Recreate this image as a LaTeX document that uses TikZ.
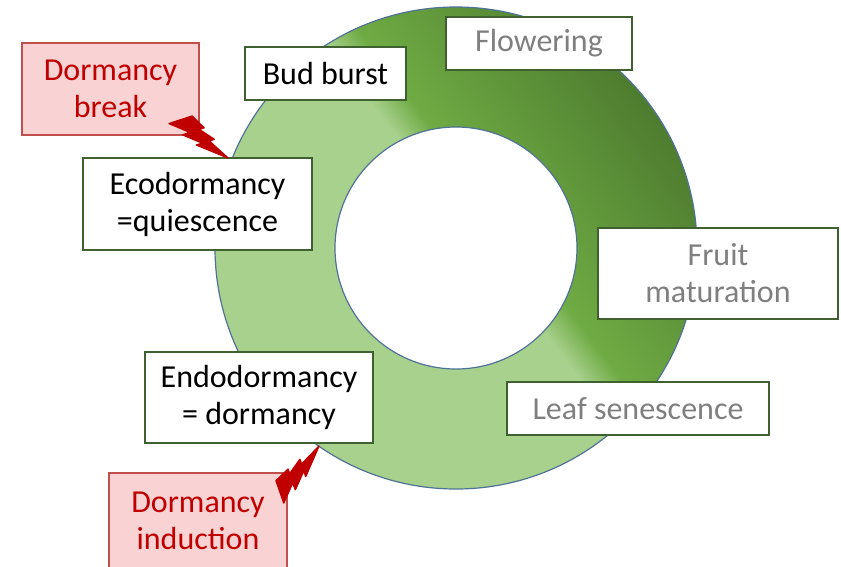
\documentclass[tikz,border=0pt]{standalone}
\usepackage{fontspec}
\setmainfont{Carlito}
\definecolor{ringlight}{HTML}{A9D18E}
\definecolor{ringmid}{HTML}{6FAB44}
\definecolor{ringdark}{HTML}{4E7C2F}
\definecolor{ringedge}{HTML}{4F7396}
\definecolor{boxedge}{HTML}{3F6130}
\definecolor{redtext}{HTML}{C00000}
\definecolor{redfill}{HTML}{F9D3D3}
\definecolor{rededge}{HTML}{C0504D}
\definecolor{greytext}{HTML}{7F7F7F}
% light lower-left half, bright green past the middle, darkening outwards
\pgfdeclarehorizontalshading{ringshade}{100bp}{color(0bp)=(ringlight); color(52bp)=(ringlight); color(55.5bp)=(ringmid); color(75bp)=(ringdark); color(100bp)=(ringdark)}
\begin{document}
\begin{tikzpicture}[x=1pt,y=-1pt,
  stage/.style={draw=boxedge, line width=2pt, fill=white, inner sep=0pt,
    align=center, font=\fontsize{32}{37}\selectfont},
  darkstage/.style={stage, text=black},
  fadedstage/.style={stage, text=greytext},
  trigger/.style={draw=rededge, line width=1.3pt, fill=redfill, text=redtext,
    inner sep=0pt, align=center, font=\fontsize{32}{37}\selectfont},
  boltshape/.style={fill=redtext, draw=redtext, line width=1.4pt, line join=round}]
\useasboundingbox[fill=white] (0,0) rectangle (841,566);

% seasonal ring
\coordinate (hub) at (456,248);
\shade[shading=ringshade, shading angle=37, even odd rule]
  (hub) circle[radius=241pt] (hub) circle[radius=121pt];
\draw[ringedge, line width=1.2pt]
  (hub) circle[radius=241pt] (hub) circle[radius=121pt];

% stages around the ring
\node[darkstage, minimum width=161pt, minimum height=53pt] (bud) at (325.5,73.5) {Bud burst};
\node[fadedstage, minimum width=186pt, minimum height=53pt] (flower) at (539,43.5) {Flowering};
\node[fadedstage, minimum width=240pt, minimum height=91pt] (fruit) at (718,273.5) {Fruit\\maturation};
\node[fadedstage, minimum width=262pt, minimum height=53pt] (leaf) at (638,408.5) {Leaf senescence};
\node[darkstage, minimum width=228pt, minimum height=91pt] (endo) at (259,397.5) {Endodormancy\\= dormancy};
\node[darkstage, minimum width=229pt, minimum height=92pt] (eco) at (197.5,204) {Ecodormancy\\=quiescence};

% transitions
\node[trigger, minimum width=177pt, minimum height=92pt] (brk) at (110.5,89) {Dormancy\\break};
\node[trigger, minimum width=178pt, minimum height=96pt] (ind) at (198,521) {Dormancy\\induction};

% lightning bolts (units of 1/100 of the 21600 grid)
\begin{scope}[shift={(169,116)}, x={(0.27315pt,0)}, y={(0,-0.19444pt)}]
  \filldraw[boltshape] (84.72,0) -- (128.60,60.80) -- (110.50,67.97) -- (165.77,120.07)
    -- (147.67,128.77) -- (216,216) -- (100.12,149.15) -- (122.22,139.87)
    -- (50.22,97.05) -- (76.02,83.82) -- (0,38.90) -- cycle;
\end{scope}
\begin{scope}[shift={(276,503)}, x={(0,0.26389pt)}, y={(0.19907pt,0)}]
  \filldraw[boltshape] (84.72,0) -- (128.60,60.80) -- (110.50,67.97) -- (165.77,120.07)
    -- (147.67,128.77) -- (216,216) -- (100.12,149.15) -- (122.22,139.87)
    -- (50.22,97.05) -- (76.02,83.82) -- (0,38.90) -- cycle;
\end{scope}
\end{tikzpicture}
\end{document}
